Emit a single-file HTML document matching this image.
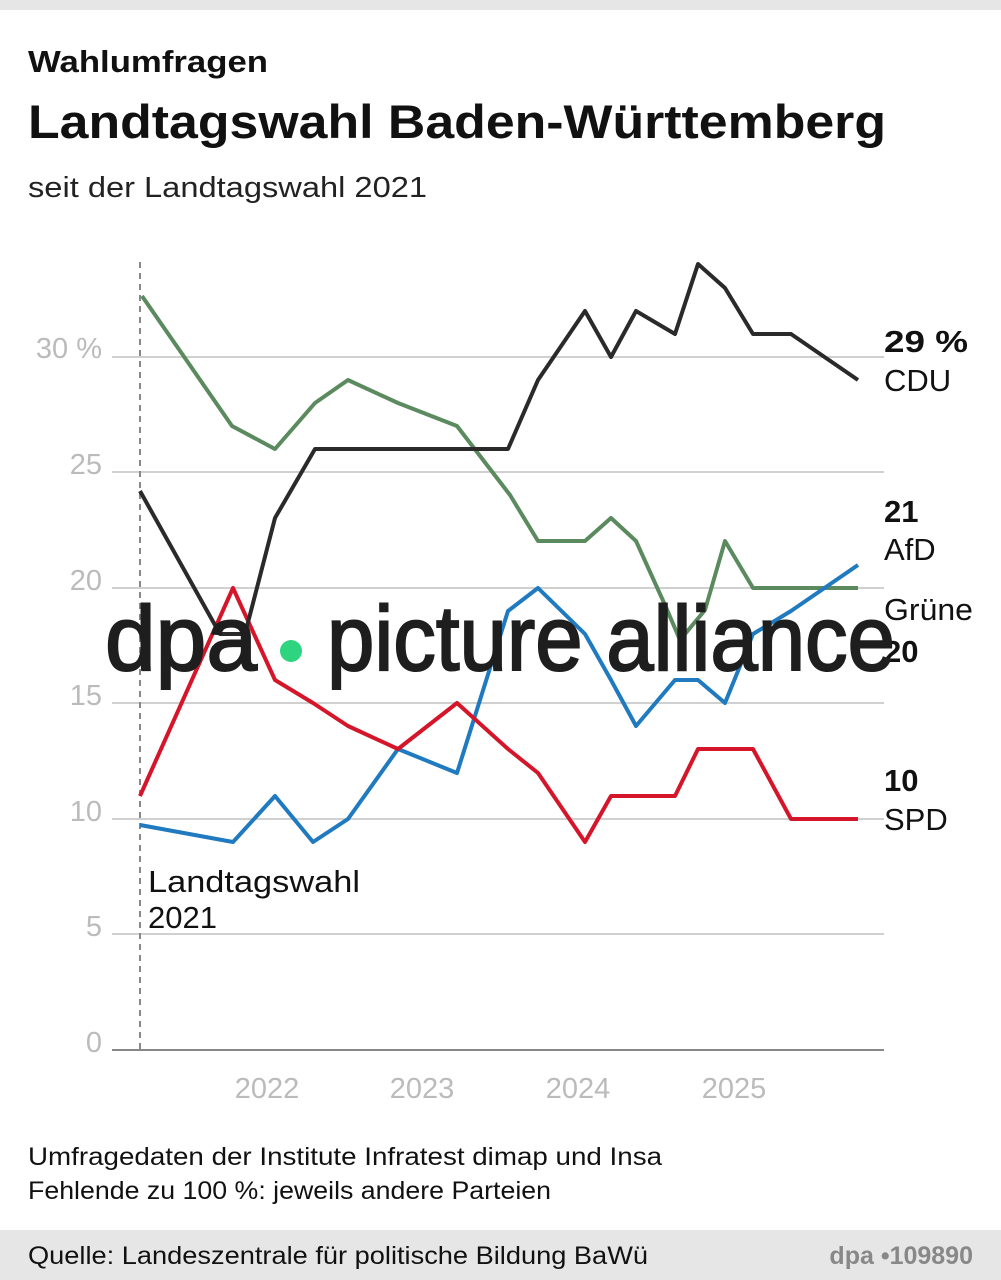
<!DOCTYPE html>
<html><head><meta charset="utf-8"><style>
body{margin:0;width:1001px;height:1280px;background:#fff;font-family:"Liberation Sans","DejaVu Sans",sans-serif;overflow:hidden;position:relative}
</style></head><body>
<svg width="1001" height="1280" xmlns="http://www.w3.org/2000/svg" style="position:absolute;left:0;top:0;font-family:'Liberation Sans',sans-serif">
<rect x="0" y="0" width="1001" height="10" fill="#e6e6e6"/>
<text x="28" y="72" font-size="31" font-weight="bold" fill="#111" textLength="240" lengthAdjust="spacingAndGlyphs">Wahlumfragen</text>
<text x="28" y="138" font-size="47" font-weight="bold" fill="#111" textLength="858" lengthAdjust="spacingAndGlyphs">Landtagswahl Baden-Württemberg</text>
<text x="28" y="197" font-size="29" fill="#222" textLength="399" lengthAdjust="spacingAndGlyphs">seit der Landtagswahl 2021</text>
<g stroke="#d0d0d0" stroke-width="2">
<line x1="112" y1="357" x2="884" y2="357"/><line x1="112" y1="472" x2="884" y2="472"/>
<line x1="112" y1="588" x2="884" y2="588"/><line x1="112" y1="703" x2="884" y2="703"/>
<line x1="112" y1="819" x2="884" y2="819"/><line x1="112" y1="934" x2="884" y2="934"/>
</g>
<line x1="112" y1="1050" x2="884" y2="1050" stroke="#888" stroke-width="2"/>
<line x1="140" y1="262" x2="140" y2="1050" stroke="#888" stroke-width="2" stroke-dasharray="6,5"/>
<g font-size="29" fill="#bbb" text-anchor="end">
<text x="102" y="358">30 %</text><text x="102" y="474">25</text><text x="102" y="590">20</text>
<text x="102" y="705">15</text><text x="102" y="821">10</text><text x="102" y="936">5</text><text x="102" y="1052">0</text>
</g>
<g font-size="29" fill="#bbb" text-anchor="middle">
<text x="267" y="1098">2022</text><text x="422" y="1098">2023</text><text x="578" y="1098">2024</text><text x="734" y="1098">2025</text>
</g>
<g fill="none" stroke-width="4" stroke-linejoin="round">
<polyline stroke="#5a8a5e" points="142,296 232,426 275,449 315,403 348,380 398,403 457,426 510,495 538,541 585,541 611,518 636,541 665,605 680,640 705,610 725,541 753,588 858,588"/>
<polyline stroke="#1f7ac0" points="140,825 233,842 275,796 313,842 348,819 398,749 457,773 508,611 538,588 585,634 611,680 636,726 675,680 698,680 725,703 753,634 791,611 858,565"/>
<polyline stroke="#d5162a" points="140,796 233,588 275,680 313,703 348,726 398,749 457,703 508,749 538,773 585,842 611,796 636,796 675,796 698,749 725,749 753,749 791,819 858,819"/>
<polyline stroke="#2a2a2a" points="140,491 220,634 245,634 275,518 315,449 508,449 538,380 585,311 611,357 636,311 675,334 698,264 725,288 753,334 791,334 858,380"/>
</g>
<g font-size="31" fill="#111">
<text x="884" y="352" font-weight="bold" textLength="84" lengthAdjust="spacingAndGlyphs">29 %</text><text x="884" y="391">CDU</text>
<text x="884" y="522" font-weight="bold">21</text><text x="884" y="560">AfD</text>
<text x="884" y="620" textLength="89" lengthAdjust="spacingAndGlyphs">Grüne</text><text x="884" y="662" font-weight="bold">20</text>
<text x="884" y="791" font-weight="bold">10</text><text x="884" y="830">SPD</text>
<text x="148" y="892" textLength="212" lengthAdjust="spacingAndGlyphs">Landtagswahl</text><text x="148" y="928">2021</text>
</g>
<g fill="#1e1e1e" stroke="#1e1e1e" stroke-width="2">
<text x="105" y="670" font-size="92" textLength="152" lengthAdjust="spacingAndGlyphs">dpa</text>
<text x="327" y="670" font-size="92" textLength="568" lengthAdjust="spacingAndGlyphs">picture alliance</text>
</g>
<circle cx="291" cy="651" r="11" fill="#2fd47e"/>
<g font-size="25" fill="#111">
<text x="28" y="1165" textLength="634" lengthAdjust="spacingAndGlyphs">Umfragedaten der Institute Infratest dimap und Insa</text>
<text x="28" y="1199" textLength="523" lengthAdjust="spacingAndGlyphs">Fehlende zu 100 %: jeweils andere Parteien</text>
</g>
<rect x="0" y="1230" width="1001" height="50" fill="#e6e6e6"/>
<text x="28" y="1264" font-size="25" fill="#111" textLength="620" lengthAdjust="spacingAndGlyphs">Quelle: Landeszentrale für politische Bildung BaWü</text>
<text x="973" y="1264" font-size="25" font-weight="bold" fill="#888" text-anchor="end">dpa •109890</text>
</svg>
</body></html>
